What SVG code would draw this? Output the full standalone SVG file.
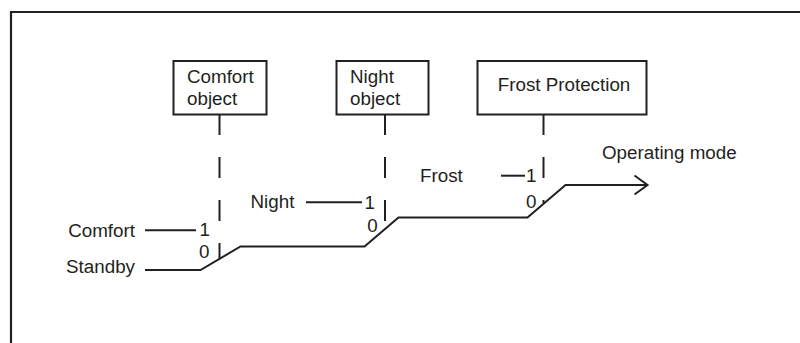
<svg xmlns="http://www.w3.org/2000/svg" width="800" height="343" viewBox="0 0 800 343">
<style>
.t{font-family:"Liberation Sans",Arial,sans-serif;font-size:18.8px;fill:#231f20}
.box{fill:#fff;stroke:#231f20;stroke-width:2}
.ln{fill:none;stroke:#231f20;stroke-width:2}
.dash{fill:none;stroke:#231f20;stroke-width:2;stroke-dasharray:21 22}
</style>
<rect x="0" y="0" width="800" height="343" fill="#fff"/>
<path d="M11,343 V12 H800" fill="none" stroke="#231f20" stroke-width="2.2"/>
<g id="comfort-object">
<rect class="box" x="173.5" y="61" width="93" height="53.5"/>
<text class="t" x="187" y="83">Comfort</text>
<text class="t" x="187" y="104.5">object</text>
</g>
<g id="night-object">
<rect class="box" x="336.5" y="61" width="92" height="53.5"/>
<text class="t" x="350" y="83">Night</text>
<text class="t" x="350" y="104.5">object</text>
</g>
<g id="frost-protection">
<rect class="box" x="477.5" y="61" width="169" height="53.5"/>
<text class="t" x="564" y="91" text-anchor="middle">Frost Protection</text>
</g>
<g id="labels">
<text class="t" x="135" y="237" text-anchor="end">Comfort</text>
<text class="t" x="135" y="273" text-anchor="end">Standby</text>
<text class="t" x="199.5" y="236">1</text>
<text class="t" x="199" y="257.5">0</text>
<text class="t" x="250.5" y="207.5">Night</text>
<text class="t" x="364.5" y="208.5">1</text>
<text class="t" x="367.3" y="231.5">0</text>
<text class="t" x="420" y="181.5">Frost</text>
<text class="t" x="526" y="182">1</text>
<text class="t" x="526" y="207.7">0</text>
<text class="t" x="602" y="158.5">Operating mode</text>
</g>
<g id="connectors">
<line class="dash" x1="219.5" y1="114" x2="219.5" y2="259"/>
<line class="dash" x1="385" y1="114" x2="385" y2="224"/>
<line class="dash" x1="543.5" y1="114" x2="543.5" y2="203"/>
<line class="ln" x1="145" y1="230.3" x2="196" y2="230.3"/>
<line class="ln" x1="306" y1="202.3" x2="362" y2="202.3"/>
<line class="ln" x1="501" y1="175.7" x2="525" y2="175.7"/>
<polyline class="ln" points="145,270 200.5,270 240.5,246.5 364.5,246.5 398.5,217.5 527.5,217.5 565.5,185 647,185"/>
<polyline class="ln" points="634.5,175.5 647.5,185 634.5,194.5"/>
</g>
</svg>
